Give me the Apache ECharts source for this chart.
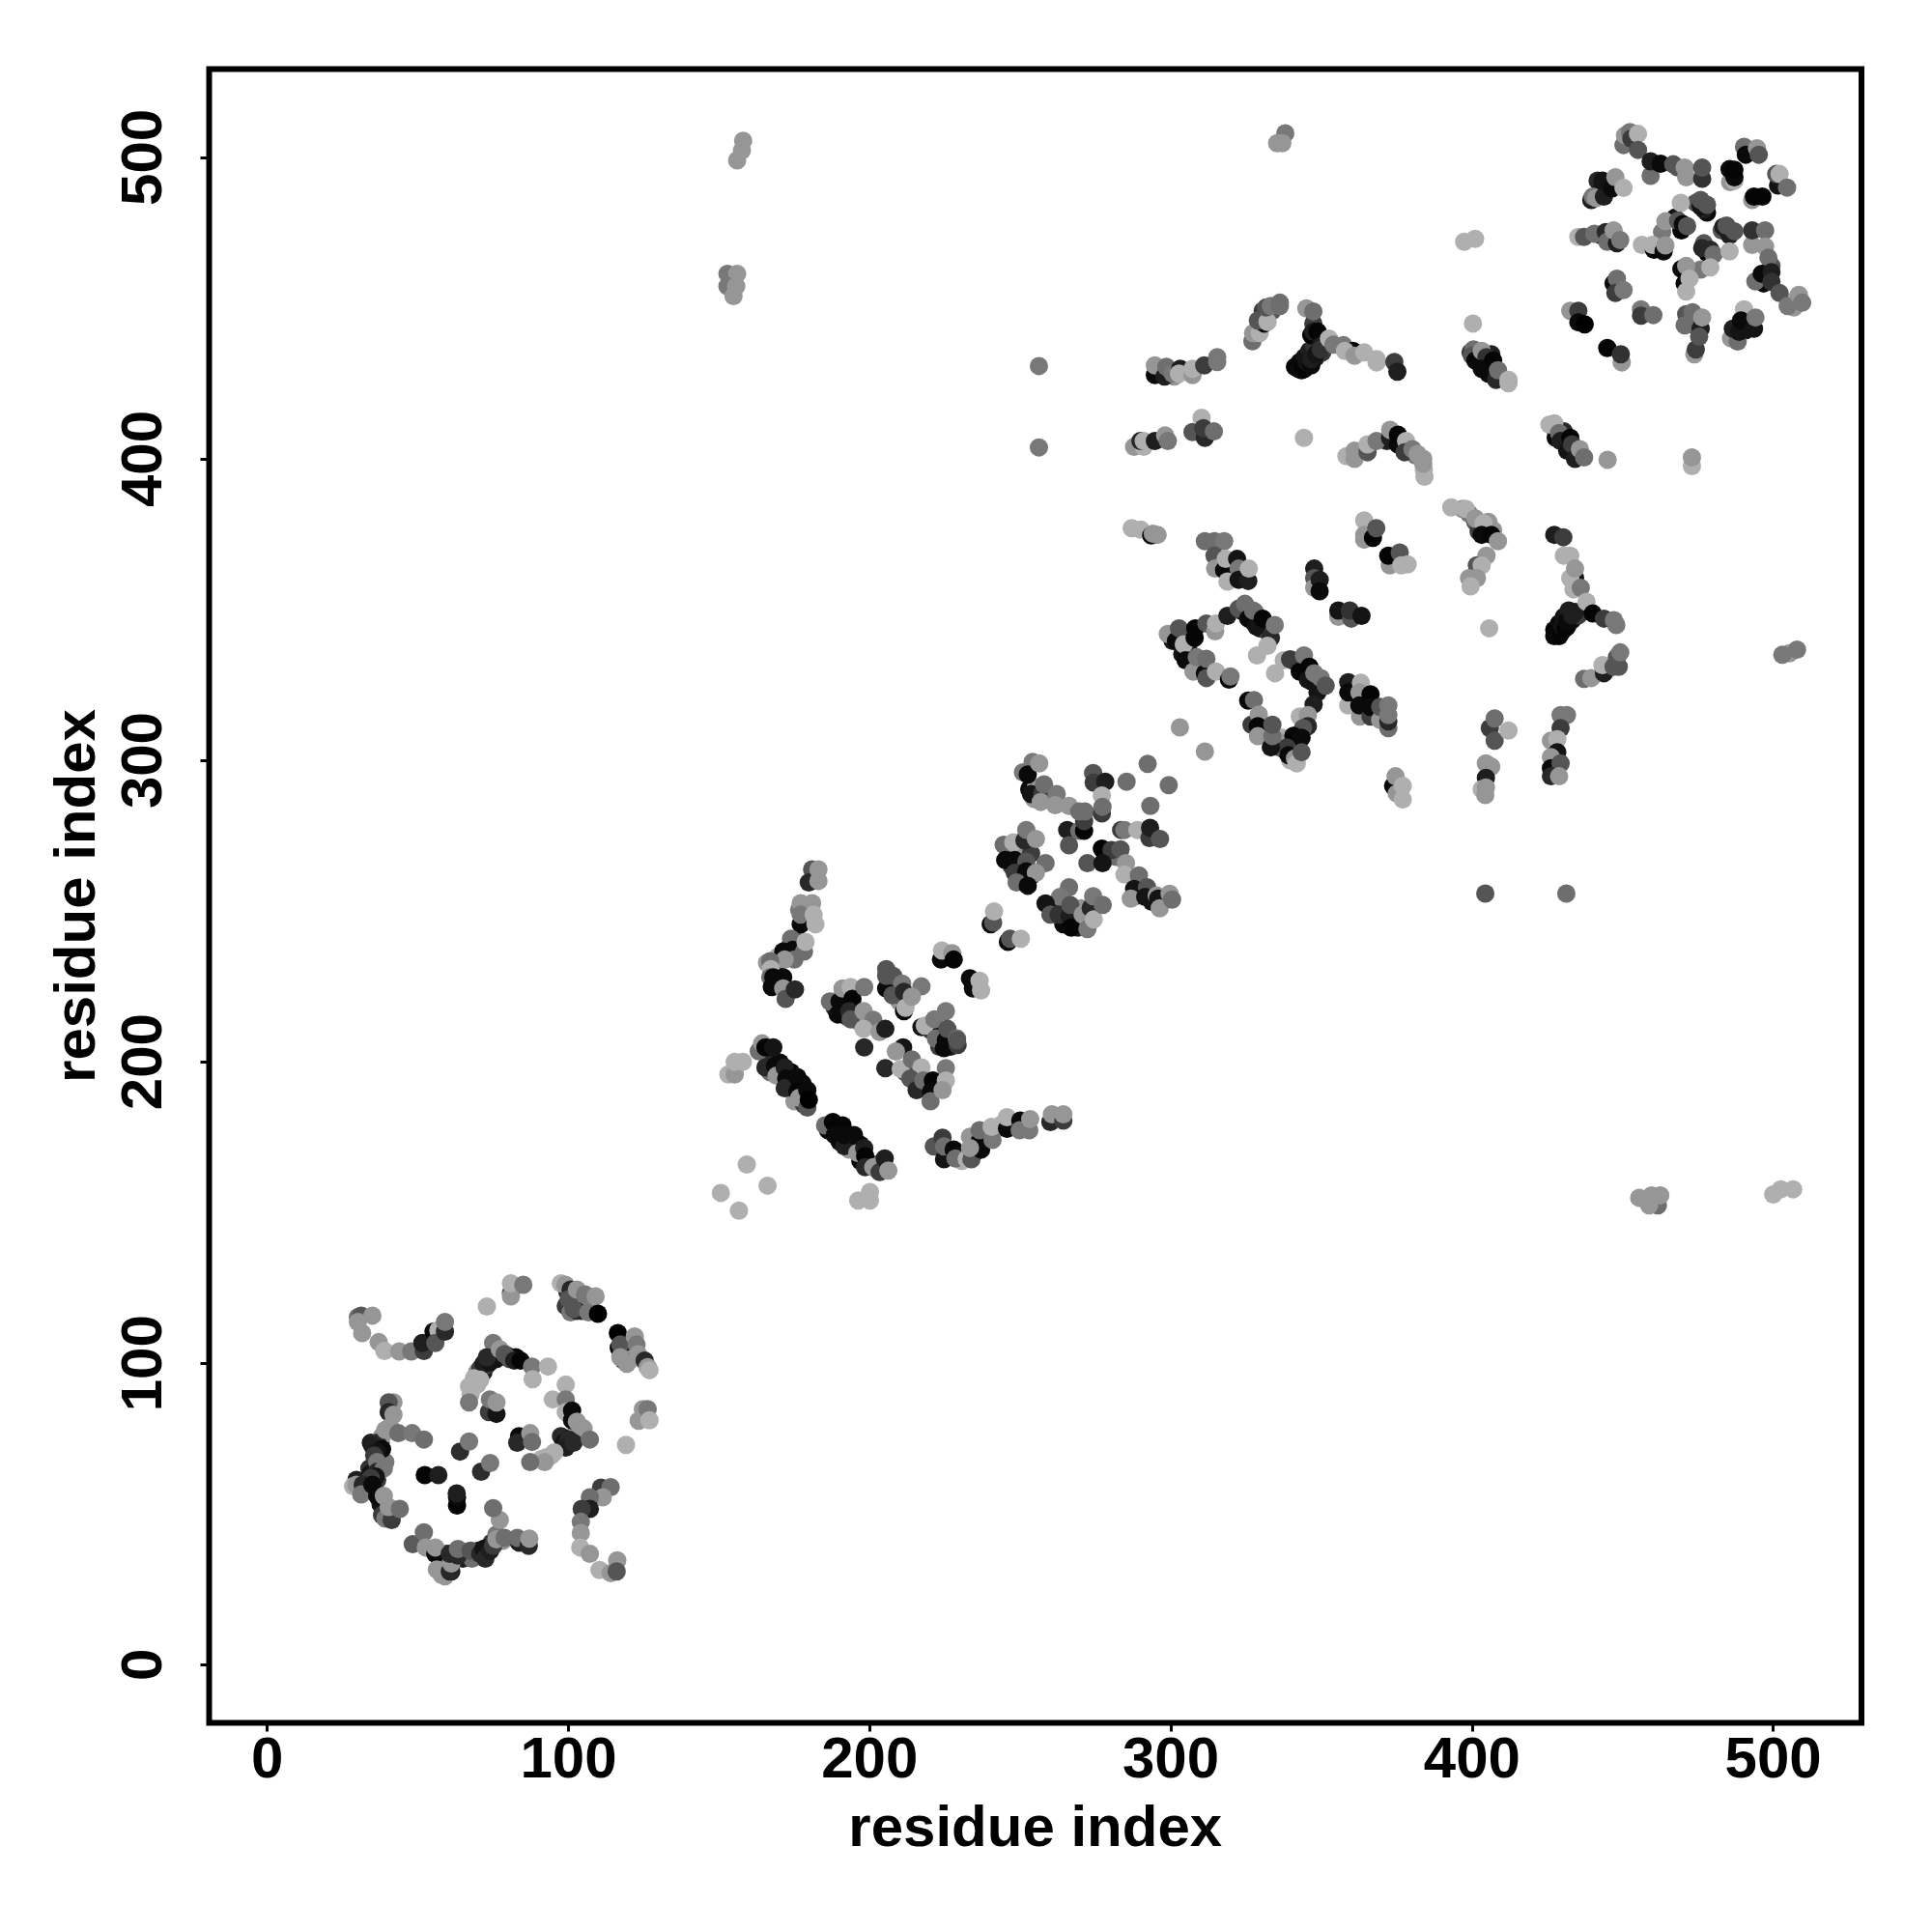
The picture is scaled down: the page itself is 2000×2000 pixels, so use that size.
<!DOCTYPE html>
<html><head><meta charset="utf-8">
<style>html,body{margin:0;padding:0;background:#fff}#c{width:2000px;height:2000px}</style>
<script src="https://cdn.jsdelivr.net/npm/echarts@6/dist/echarts.min.js"></script>
</head><body><div id="c"></div>
<script>
const xTicks=[0,100,200,300,400,500];
const yTicks=[0,100,200,300,400,500];
// each point: residue i, residue j, grey shade
const underlayA=[[59.5,36.8,60],[61.7,35.2,110],[61.1,30.9,30],[59,32,110],[65.4,37.3,50],[69.1,36.8,30],[70.2,37.8,20],[72.9,38.9,30],[74.5,40.5,50],[76.1,43.2,120],[78.2,41.1,150],[64.9,35.2,30],[68,35.2,110],[57.9,29.8,150],
[34.4,73.6,30],[36,71.5,40],[37.6,73.6,20],[38.1,75.8,150],[40.3,77.9,150],[33.9,65.1,50],[34.4,63.5,20],[36.5,61.3,60],[33.3,60.8,150],[29.6,61.3,30],[28.5,59.2,175],[32.3,57.6,40],[37.6,53.3,20],[38.1,49.6,60],[39.2,67.2,120],
[69.7,97.1,150],[71.8,97.1,30],[74.5,102.5,85],[76.1,101.4,20],[72.9,99.3,60],[67.5,91.8,175],[69.7,92.9,175],[79.8,102.5,40],[82.5,102,5],
[97.5,75.8,40],[98.5,73.6,20],[100.7,75.2,30],[102.8,76.8,150],[94.3,69.4,175],[91.1,68.3,175],
[99.6,123.8,50],[101.7,121.2,150],[99.1,119,60],[100.7,116.9,120],[104.4,117.4,20],[105,120.6,150],[118.3,103.5,10],[121,101.4,150],[124.2,101.4,175]];
const underlayB=[[166.5,200.8,40],[167,196.5,110],[170.2,199.7,10],[170.7,195.4,50],[173.9,196.5,5],[174.5,192.2,10],[177.7,192.8,10],[175,186.9,150],[178.2,185.8,60],
[186.2,177.3,10],[190,173.5,10],[193.2,174.1,5],[193.2,170.9,150],[196.9,172.5,10],[196.9,167.1,10],[201.2,166,85],[202.3,164.5,30],[203.9,166.1,150],
[169.7,235,175],[165.9,232.8,150],[173.4,238.2,60],[176.6,240.3,85],[169.1,230.1,60],[176.6,250.4,120],[179.8,247.2,150],
[188.4,217.9,40],[191.6,217.9,10],[192.1,215.2,60],[195.9,213.6,150],[190.5,221.6,175],
[234.3,174.1,60],[233.3,175.1,150],[235.4,170.3,10],[238.6,176.2,110],[244,179.4,175],[247.7,179.4,30],[251.4,178.4,120],[225.8,169.3,40],[230.6,167.1,175],
[211.9,196.5,60],[215.1,193.3,10],[217.2,191.2,60],[219.4,192.2,10],[223.7,193.3,150],[205.5,230.7,85],[208.7,223.2,60],[209.8,220,150],[211.9,220,60],
[220.4,210.4,60],[223.6,209.3,10],[223.1,205,60],[226.9,205,30]];
const underlayC=[[246.1,269.6,10],[249.3,271.2,150],[247.2,264.8,60],[250.4,263.7,10],[250.9,261.1,20],[253.6,261.6,40],[253.6,269.1,60],
[253,290.4,10],[255.2,291,150],[254.6,287.2,150],[261.1,252,20],[264.3,249.9,60],[264.3,245.6,10],[270.2,250.9,150],[272.3,247.7,30],[270.7,246.7,85],[269.1,244.5,30],
[288.9,255.2,30],[290.5,255.7,60],[293.7,253.1,20],[293.1,255.7,150],[279.2,268,150],[281.9,268,110]];
const underlayD=[[300.6,339.6,30],[303.3,340.6,85],[303.8,335.3,20],[305.9,338.5,30],[323,350.3,85],[325.7,348.1,60],[327.3,346,20],[329.5,343.8,20],[332.1,342.8,60],[324.1,349.2,30],[327.9,349.2,120],
[340.1,333.2,30],[342.3,332.1,10],[344.4,329.4,10],[346.6,326.2,20],[348.7,324.6,30],[347.6,327.8,110],
[338,303.3,20],[340.1,305.4,30],[342.3,308.6,20],[336.9,307.5,175],[344.4,311.8,50],[335.9,304.3,85],[339.6,300,175],
[427.3,343.3,5],[428.9,345.4,10],[430.5,347.6,20],[432.1,349.7,30],[433.2,346.5,20],[435.3,348.1,60],[427.3,341.2,10],[428.9,341.2,5],[429.9,342.8,10],[431.6,344.4,10],
[396.8,383.4,150],[399,381.8,120],[401.1,379.1,85],[402.2,375.9,60],[404.3,375.9,10],[405.4,379.1,150],[407,376.4,150]];
const underlayE=[[341.2,430.5,5],[342.8,432.1,10],[344.4,433.7,20],[346,435.8,30],[347.6,437.4,50],[343.4,429.4,10],[346,431.5,5],[348.2,433.7,30],[350.3,435.3,60],[351.4,437.4,85],[346.6,441.1,5],
[399.5,435.3,60],[402.2,433.7,10],[403.8,431.5,5],[405.9,429.9,10],[409.1,427.3,85],[406.4,434.7,30],
[427.3,410.2,85],[430.5,409.1,40],[427.8,407,10],[431.6,404.8,10],[433.7,403.2,30],[435.8,401.1,20],
[373.8,407,10],[376.5,405.9,10],[379.2,403.2,85],[381.3,401.1,120],[371.7,405.9,30],[330.5,449.1,60],[333.7,449.1,85],[296.9,429.4,60],[301.1,427.3,150]];
const underlayF=[[441.7,492.3,40],[442.2,488.1,20],[439.6,485.9,30],[444.4,489.1,10],[442.8,474.2,20],[445.4,474.2,85],[447.6,473.1,30],[467.4,480,20],[469.5,475.8,5],[474.3,484.9,85],[478,481.7,10],[477,482.7,30],
[482.9,475.8,85],[485.5,474.2,30],[477,471.5,85],[478.1,468.3,5],[499.4,464,85],[496.8,458.2,10],[473.8,444.3,85],[490.9,442.7,20],[487.7,440.5,30],[505.8,451.8,85],[507.5,452.8,175]];
const domainA=[[30.1,115.3,110],[31.2,115.8,85],[34.9,115.8,150],[30.1,113.7,150],[31.5,110,150],[37,107,150],[38.9,104.1,175],[43.8,103.9,150],[47.8,103.9,120],[52,104.1,60],[51.5,106.7,30],[55.2,110.5,10],[56.8,111,175],[55.8,106.7,85],[59,110.5,40],[59,113.7,120],
[72.9,118.8,175],[80.9,123.3,85],[80.9,122.2,150],[80.9,126.5,175],[85,126,120],
[97.5,126.5,175],[99,126,150],[100.7,124.4,40],[102.8,117.4,40],[100.1,121.2,85],[101.7,118,85],[102.8,124.4,150],[105.5,122.8,120],[106.6,116.9,120],[109,122.2,150],[109.8,116.4,0],
[116.4,110,0],[116.7,105.1,10],[117.2,106.2,85],[118.3,100.9,40],[117.2,102,150],[119.4,99.8,150],[122,108.9,150],[122.6,106.2,120],[123.1,103,150],[125.3,100.9,40],[126.3,98.7,150],[126.9,97.7,175],
[123.3,80.9,150],[124.7,84.8,150],[126.3,84.8,120],[126.9,81.1,175],[119.1,72.9,175],
[75,106.7,120],[70.7,98.2,60],[71.8,99.8,30],[73.9,100.3,20],[72.9,102,40],[77.2,104.6,150],[78.8,103,85],[80.4,101.4,85],[82,100.9,30],[84.1,100.9,5],[87.9,98.9,120],[93.2,98.9,175],[88.1,94.7,175],
[68.6,95,175],[70.7,94.5,175],[67,92.3,175],[67.5,89.7,175],[67,87,120],[73.6,83.8,60],[76.1,83.2,20],[73.9,88,120],[76.1,87,150],
[99.1,92.9,175],[94.8,88,175],[99.1,88,120],[99.1,83.8,175],[101.2,84.3,10],[101.2,81.1,10],[102.8,80.6,150],[105,78.4,150],[100.1,74.7,40],[99.1,72,30],[101.7,73.6,40],[107.1,74.7,110],[95.3,70.4,175],[92.7,68.8,175],[92.1,67.2,150],[87.3,67.2,110],
[83.6,75.8,10],[83,73.6,40],[87.3,76.8,150],[87.9,73.9,110],
[64,70.7,45],[67,74,120],[71,64,45],[74,66.9,120],[52.3,62.9,5],[56.8,62.9,30],[63,52.8,5],[63,55.5,10],[62.9,56.8,30],
[41.9,87,150],[40.3,87,85],[40.3,83.8,40],[41.9,82.9,150],[36.5,73.6,40],[34.9,72.6,30],[38.1,71.5,10],[36.5,70.4,20],[40.8,79,150],[39.2,77.9,150],[43.5,76.8,110],[48.1,76.8,120],[52,74.7,110],[35.5,69.4,60],[36.5,67.2,120],[36.5,64,40],[38.7,65.1,120],[36,62.4,20],[34.4,61.9,60],[29.6,59.7,150],[31.7,59.7,40],[31.2,56.5,120],[34.9,59.7,10],[36.5,56,10],[38.7,56,150],[39.2,48.5,120],[41.3,48,60],[40.3,52.3,150],[44,51.7,110],
[48.3,40,90],[52,43.9,110],[52.6,38.9,150],[55.8,36.8,10],[55.8,38.9,150],[56.3,31.6,150],[59,29.3,150],[60.6,30.9,40],[61.1,33.6,150],[60.6,36.8,40],[63.3,36.2,40],[63.3,38.4,110],[67.5,37.8,85],[70.7,36.8,40],[71.8,38.4,20],[72.4,35.2,40],[74,37.8,30],[75,39.4,60],[76.1,41.6,150],[78.8,42.1,110],[77.2,48,150],[75,51.9,110],[83.6,40.5,30],[83,42.1,110],[86.8,39.4,40],[87,41.8,150],
[110.8,58.7,60],[114,58.9,110],[111.4,55.5,150],[107.1,55.5,110],[107.1,51.7,30],[104.4,51.7,60],[104.1,47.4,120],[104.1,43.7,150],[103.9,38.9,175],[107.1,36.8,150],[110.3,31.4,175],[114,30.4,150],[116.2,34.6,150],[116,30.9,85]];
const domainB=[[180.9,263.8,85],[179.8,259.5,40],[183,263.8,150],[183,260,150],[177.1,252.6,150],[180.9,252.6,150],[177.1,245.6,10],[177.1,248.8,120],[181.4,248.8,175],[182,245.6,175],
[173.9,240.8,110],[171.3,236.6,10],[174.5,237.1,10],[175,233.9,110],[178.2,236.6,110],[178.7,239.8,175],[171.8,233.9,150],[167,233.4,110],[167.2,230.7,175],[167,228,110],[168,228,10],[171.3,228,10],[167.5,224.8,10],[171.3,224.3,150],[172.1,220.9,85],[175.2,224,40],
[186.8,220,110],[190,220,10],[191,224.3,150],[193.7,224.8,175],[194.3,220.9,5],[198.2,224.8,120],[189.4,215.7,10],[193.2,216.8,40],[193.7,214.1,85],[198,216.8,150],[201.2,213.9,120],[198,210.9,175],[203.3,209.9,150],[205.2,210.9,30],
[198.2,204.8,40],[205.2,197.9,40],[211.1,204.8,20],
[205.5,224.3,10],[207.6,225.3,10],[205.5,228.5,85],[207.8,228.5,85],[210.8,225.9,120],[217.2,225,120],[207.6,222.1,85],[211.4,223.2,40],[211.4,216.8,10],[211.9,217.9,175],[214,221.6,150],
[225.3,216.8,120],[217.2,211.5,20],[218.3,212,175],[221.5,214.1,120],[222,207.7,110],[225.3,207.2,10],[224.7,204.5,10],[225.8,210.9,85],[229,207.7,110],[229.2,205.6,60],[229,207.2,85],
[208.7,203.4,150],[210.3,197.6,175],[214,200.8,110],[217.2,198.1,175],[213.5,194.4,85],[215.6,190.6,40],[217.8,193.8,110],[221,193.8,5],[220.4,190.1,10],[220.2,186.9,110],[225.3,197.9,120],[225.3,193.8,175],[224.2,190.6,150],
[223.7,233.9,10],[224,236.9,175],[227.4,236,150],[227.9,233.9,5],[233.3,227.7,10],[234.3,224.3,10],[236.5,226.9,175],[237,223.7,175],
[153.1,195.8,175],[155.2,195.8,150],[155.2,200,175],[157.9,200,175],
[163.2,203.5,110],[164.3,206.1,150],[165.4,204.8,5],[168,204.8,20],[165.4,198.1,40],[168.6,198.6,10],[169.1,195.4,150],[171.8,198.1,30],[172.3,194.4,10],[171.8,191.2,40],[176,194.9,10],[176,190.1,5],[176.6,188,150],[179.3,184.8,85],[179.3,190.6,10],[179.8,187.4,0],
[185.2,178.9,110],[187.8,180,5],[191,178.9,5],[188.4,175.7,10],[191.6,172,30],[195.9,169.8,150],[191.6,175.7,10],[194.8,175.7,10],[198.2,171.4,30],[198.5,168.7,5],[198.5,165,40],[201.2,165,150],[203.3,163.4,60],[205,167.9,30],[206.2,163.9,150],
[159.2,165.9,175],[166.1,158.9,175],[150.6,156.5,175],[156.6,150.6,175],[196.2,154,175],[200.1,156.8,175],[200.1,154,175],
[221.3,171.9,85],[224.2,174.8,60],[224.7,167.7,20],[224.7,171.9,110],[227.9,170.9,10],[228.5,167.9,110],[232.2,167.7,175],[233.8,167.7,85],[236.5,173.5,5],[237,170.9,10],[233.3,171.4,150],[236.5,177.3,110],[240.8,174.1,120],[240.5,178.4,175],[245.6,177.8,10],[245.6,181.6,175],[250,180.5,10],[249.8,177.3,120],[253,177.3,120],[253.3,181,150],[260,180,40],[260.5,182.6,150],[264.3,180.5,60],[264.3,182.6,150],
[240.2,245.6,10],[241,246.2,85],[241.3,249.9,175],[245.9,239.8,10],[246.6,240.8,85],[250.2,240.8,175]];
const domainC=[[254.1,299.5,120],[250.9,296,120],[252.5,295.3,10],[256.3,299,150],[253.6,288.8,20],[257.3,288.8,60],[256.8,286.2,150],[257.9,292,110],[262.1,288.8,120],[261.6,285.1,150],[266.2,284.9,150],[265.6,276.9,30],[269.6,276.6,110],[271.2,276.6,5],[271.2,279.8,60],[269.6,283,110],[271.5,283,110],[266.2,271.8,85],
[274.2,295.8,85],[274.4,292.6,60],[278.2,292.9,30],[277.1,288.3,175],[277.1,282.4,60],[277.3,284.6,110],[285.3,292.9,110],[292.3,298.8,110],[299.3,291.8,110],[311.3,302.9,150],[293.2,284.9,110],[303,310.9,150],
[283.5,276.9,60],[284.6,276.9,120],[288.9,276.9,175],[292.9,274.2,60],[293.1,277.6,30],[296.4,273.9,85],
[244.5,272,110],[247.7,272.8,175],[251.4,273.4,40],[252,276.9,120],[255.2,273.9,150],[245,266.9,10],[248.2,266.9,10],[252,266.4,85],[258.4,265.9,110],[248.2,262.7,60],[252,263.2,10],[255.2,262.7,150],[248.8,259.5,110],[252.5,258.4,10],
[272.3,265.9,85],[277.1,270.7,5],[280.3,270.2,60],[283.3,270.5,85],[277.3,265.9,20],[285.1,265.9,150],[284.6,262.1,175],[289.4,261.8,110],[287.8,257.3,20],[286.7,254.1,150],[292.1,257.9,85],[291.5,254.7,20],[295.3,255.2,150],[295.8,254.1,20],[296.3,250.9,150],[299.6,255.7,150],[300.4,253.8,110],
[266.2,257.9,110],[263.2,254.7,120],[258.4,252.5,20],[260,248.8,85],[262.7,248.8,50],[266.4,248.3,30],[266.9,244.5,5],[266.6,252,85],[270.7,248.8,150],[273.4,251,40],[272.3,244,120],[274.4,247.2,175],[274.2,254.9,120],[277.4,252,110]];
const domainD=[[287,377,175],[290,376.5,175],[293.5,374.6,10],[294,375.2,150],[295.6,374.8,150],[311.3,372.7,110],[314.5,372.7,110],[317.7,372.7,120],[314.5,367.9,85],[314.7,363.6,150],[317.7,363.1,10],[318.2,366.8,175],[322,366.8,20],[322.5,363.6,120],[318.8,359.3,175],[322.5,359.9,20],[325.7,359.5,30],[325.9,363.6,175],
[347.6,363.6,30],[347.6,360.4,85],[347.6,357.2,150],[349.4,359.9,30],[349.4,356.1,10],[355.6,347.6,150],[355.6,349.7,20],[359.9,347,85],[359.4,349.7,50],[363.3,347.9,20],
[364.2,379.6,175],[364.2,374.8,150],[364.2,373.2,150],[367.1,373.8,5],[368.2,377,85],[372.7,364.7,150],[372.2,367.9,5],[376,368.9,85],[376.5,364.7,175],[378.6,365,175],
[299,341.9,150],[301.7,339.6,10],[302.7,343.8,85],[304.3,338.5,175],[307.9,340.6,5],[308.1,343.8,5],[311.8,345.4,85],[314.7,342.8,150],[315,345.4,175],[318.8,347.9,30],[322.5,350.3,85],[324.6,351.9,110],[325.7,347,10],[328.4,344.4,20],[327.3,349.7,110],[330.5,347,5],[333.2,340.6,40],[334.5,344.9,120],[332.1,338,175],[328.6,334.8,175],
[304.9,333.2,10],[307.5,329.4,150],[308.6,334.2,120],[311.3,328.9,10],[311.8,333.7,110],[311.8,327.3,85],[315,329.4,175],[319.3,326.8,5],[319.8,327.8,120],
[334.6,328.9,175],[337.5,333.2,175],[339.6,333.5,60],[342.8,329.4,5],[344.2,334.8,120],[346,331,5],[345.5,326.8,20],[347.6,328.9,120],[348.7,322.5,20],[349.8,327.3,120],[351.4,324.8,85],[347.4,318.5,30],[342.8,314.5,175],[345.5,315,150],[345.5,311.3,40],[343.9,310.7,85],[336.9,305.9,150],[340.7,308.1,5],[343.4,307.5,10],[338.5,304.3,60],[339.1,301.7,10],[341.2,300.6,150],[341.8,299,175],[343.4,302.7,85],
[325.7,319.8,10],[327.6,320,110],[326.8,311.8,60],[329.2,315.2,150],[328.9,311.3,5],[328.9,308,150],[333.2,304.3,20],[333.7,308,110],[333.7,311.8,85],
[358.9,318.2,175],[358.9,325.9,30],[358.9,322.5,10],[363.1,325.7,175],[362.6,322.5,150],[362.8,314.5,150],[362.6,318.2,10],[366.3,314.5,60],[366.3,321.9,5],[366.3,317.7,10],[369.5,313.4,150],[369.5,317.7,85],[372.2,310.7,110],[372.2,312.9,40],[372.2,315,120],[372.2,318.2,120],
[373.8,291.5,10],[374.6,294.7,150],[375,289,150],[377,287,175],[377,291.5,175],
[405.7,343.8,175],[405.9,310.7,60],[407.5,313.9,110],[407.5,306.5,85],[412.1,309.9,175],[404.6,299,150],[406.4,297.9,150],[404.6,294.2,30],[403.2,290.4,175],[404.6,291,150],[404.4,288.5,150],
[429.4,315,120],[431.5,315,120],[429.4,310.7,60],[426.2,306.5,150],[428.3,307,175],[428.3,302.7,20],[426.2,301.1,150],[426.2,297.4,10],[429.4,299,85],[426.2,294.7,40],[428.9,294.7,150],
[393.1,383.9,175],[397.9,383.4,175],[401.1,380.2,150],[403.8,378.6,175],[403.2,374.8,10],[406.4,374.8,5],[408.6,372.7,150],[404.8,367.9,150],[401.6,364.7,85],[403.2,364.7,175],[399,360.4,150],[401.6,360.4,150],[399.5,357.7,175],
[427.3,374.8,30],[430.3,374,60],[430.5,367.9,175],[432.6,367.9,175],[434.2,360.4,20],[432.6,360.4,175],[434.2,363.6,150],[433.7,356.7,175],[436.1,357.2,120],
[428.3,342.2,10],[429.4,342.2,5],[430,344.4,20],[431,343.8,5],[431.6,346,10],[433.2,348.1,30],[434.2,349.2,30],[438,352.6,175],[440.1,348.7,5],[443.8,347,60],[447.1,346.5,120],[447.9,344.9,120],
[437.2,327,110],[439.6,327.3,150],[443.8,328.9,30],[443.3,331.6,175],[447,331,85],[448.7,331,85],[448.1,334.2,85],[449.2,335.8,120]];
const domainE=[[287.8,404,150],[291,404,175],[289.9,405.9,40],[291,405.9,175],[294.7,405.9,30],[298.1,407.8,150],[299,405.9,120],[307.2,408.9,85],[310.2,413.6,175],[311.3,407,40],[310.8,410.2,60],[314.3,409.1,110],[344.2,407,175],
[294.7,427.8,10],[294.7,431,150],[297.9,427.3,30],[298.5,430.5,110],[300.6,428.3,120],[303.1,429.9,30],[302.7,428.3,175],[307.2,427.8,150],[307.2,429.9,175],[311.1,431,60],[315.4,432.1,120],[315.4,433.7,120],
[327.1,439,110],[327.3,441.7,150],[329.5,441.7,175],[331,444.9,10],[328.9,445.9,85],[332.1,445.4,175],[331.6,450.2,85],[333.2,450.7,120],[336.2,450.7,110],[336.2,451.8,110],
[345,449.9,150],[347.3,444.9,60],[347.3,442.2,30],[347.3,448.9,110],[348.7,442.2,5],[349.8,437.4,30],[342.3,429.9,10],[343.9,430.5,5],[344.4,429.9,5],[345,432.1,20],[346.6,431,10],[346.6,433.1,30],[348.2,434.7,20],[349.8,436.3,50],[352.5,439.9,175],[354,437.9,120],[357.3,437.7,120],[360.5,435.8,5],[357.8,435.8,175],[361,434.2,150],[364.2,435.3,175],[368.3,432,175],[368.3,433.1,175],[374.2,432.1,60],[375.2,428.9,30],
[400.3,444.9,175],[400.5,436.3,110],[400,434.2,85],[401.1,432.6,10],[403.2,435.8,150],[404.8,433.7,50],[403.2,429.9,10],[405.4,428.3,10],[407,432.6,5],[408,426.2,40],[408.6,429.4,110],[412.1,425.1,175],[412.1,426.2,175],
[358.3,400.9,175],[361,400,150],[361,402.7,150],[365.3,402.2,85],[365.3,404.8,175],[368.3,405.9,120],[372.8,407,30],[372.8,409.6,150],[375.4,404.8,10],[375.4,408,5],[378.1,405.9,175],[377.6,402.2,60],[380.2,403.2,120],[384.2,394.1,175],[384,396.3,175],[381.9,401.6,150],[383.8,398.4,150],[383.8,400,150],
[425.7,411.4,175],[427.3,411.8,175],[428.9,408.6,110],[429.4,405.9,30],[432.6,407,5],[431.6,402.7,20],[433.2,404.8,60],[434.2,400,30],[435.8,403.2,150],[437.2,400.5,110],
[445,399.7,150],[473,397.6,175],[473,400.5,150],[404.4,255.8,85],[431.3,255.8,110],[256.2,430.8,120],[256.2,403.8,120],
[158,505.5,150],[156,499,150],[157.6,502.3,150],[152.8,461.4,120],[156,461.4,150],[152.8,457.3,120],[155.7,457.3,150],[154.8,454,150],
[338,508,120],[335.3,504.7,150],[337,504.7,150],[505.4,335.5,150],[507.9,336.7,120],[503,335,120],
[455.5,154.9,150],[459.6,155.7,150],[461.7,152.4,110],[458.8,152.4,150],[462.5,155.7,150],[500,156,175],[502.5,157.7,175],[506.6,157.7,175],[397.4,472,175],[401,473,175]];
const domainF=[[450.3,504.1,110],[450.8,507.3,150],[452.4,508.4,120],[452.9,506.2,60],[455.1,507.8,175],[455.1,502.5,85],[459.3,493.9,110],[459.3,498.7,30],[462.6,497.9,10],[466.8,497.7,85],[468.4,496.6,85],[471.1,493.4,150],[470.6,496.6,150],[476.4,492.9,50],[476.4,496.6,85],
[490.3,503.5,110],[490.9,500.9,10],[494.6,503,150],[495.2,500.9,85],[485.7,491.8,150],[487.1,492.3,175],[487.1,493.4,10],[485.5,496.1,10],[487.1,495.9,5],[501.6,490.7,20],[501,494.5,85],[502.1,494.5,175],[504.6,490,110],
[493,485.9,150],[493.6,487,5],[496.4,487,5],[469.3,484.9,175],[475.9,483.8,20],[475.9,485.9,85],[478,484.3,85],
[440.1,487,120],[441.2,486.5,150],[443.8,487,30],[443.3,492.3,20],[446.5,489.7,10],[447.6,493.4,150],[450.3,489.9,175],
[435.3,473.6,175],[437.2,473.6,85],[440.6,474.7,110],[444.4,475.2,40],[444.9,472,110],[448.1,471.5,30],[447,475.8,150],[449.2,472.6,120],
[463.1,475.2,120],[464.2,478.8,150],[468.4,479,85],[470,477.9,10],[471.4,477.2,85],[456.4,471,175],[460.4,469.4,5],[459.9,471,175],[463.6,468.8,10],[464.2,470.8,150],
[483.4,476.9,30],[484.5,477.4,85],[487.1,475.5,85],[493,471,150],[493,475.8,50],[497.3,475.8,110],[497.3,470.4,150],[498.4,466.7,110],
[476.4,469.9,40],[479.1,469.4,40],[480.2,467.8,110],[485.5,468.8,175],[475.9,462.8,120],[479.1,463.5,175],
[469.5,463,10],[471.1,464,150],[470.6,458.2,5],[472.2,459.8,175],[471.1,455.5,175],
[494.1,458.9,110],[496.2,461.4,10],[499.4,461.9,30],[499.4,458.7,50],[502.1,455,85],[506.9,450.2,150],[504.8,450.7,120],[508.5,454.4,150],[509.6,451.8,120],
[447,458.2,10],[448.1,459.8,110],[447.6,455,60],[450.3,456,120],
[432.6,449.1,150],[435.3,449.1,60],[435.3,445.3,10],[437.4,444.6,0],[444.9,436.8,5],[449.7,432,150],[449.4,434.7,50],
[456.1,449.6,120],[456.1,447.5,60],[460.2,447.7,110],
[471.1,448,85],[473.2,448.6,110],[470.6,444.3,110],[475.9,443.2,30],[476.4,446.9,150],[473.8,434.7,150],[474.3,436.3,60],[475.4,440.5,85],
[486,440,150],[488.2,438.9,110],[486.6,443.2,30],[488.7,442.1,20],[490.3,449.6,175],[489.3,445.9,10],[493.6,443.2,20],[494.1,446.9,120]];
const domains=[underlayA,underlayB,underlayC,underlayD,underlayE,underlayF,domainA,domainB,domainC,domainD,domainE,domainF];
const chart=echarts.init(document.getElementById('c'),null,{renderer:'canvas'});
const axisBase=(ticks,gap,rot,margin)=>({type:'value',min:-19.3,max:529.3,name:'residue index',nameLocation:'middle',nameGap:gap,nameRotate:rot,nameMoveOverlap:false,
 nameTextStyle:{fontFamily:'Liberation Sans',fontWeight:'bold',fontSize:60,color:'#000'},
 splitLine:{show:false},axisLine:{show:false,onZero:false},
 axisTick:{show:true,length:9,lineStyle:{color:'#000',width:3},customValues:ticks},
 axisLabel:{show:true,rotate:rot,margin:margin,fontFamily:'Liberation Sans',fontWeight:'bold',fontSize:60,color:'#000',customValues:ticks}});
chart.setOption({animation:false,backgroundColor:'#fff',
 grid:{left:216.5,top:71.5,width:1710.5,height:1712,show:true,borderColor:'#000',borderWidth:6,backgroundColor:'#fff'},
 xAxis:axisBase(xTicks,81,0,10),
 yAxis:axisBase(yTicks,105,90,36),
 series:domains.map(d=>({type:'scatter',data:d,symbol:'circle',symbolSize:19,encode:{x:0,y:1},
  itemStyle:{opacity:1,color:p=>{const g=p.value[2];return `rgb(${g},${g},${g})`;}},silent:true}))});
</script></body></html>
